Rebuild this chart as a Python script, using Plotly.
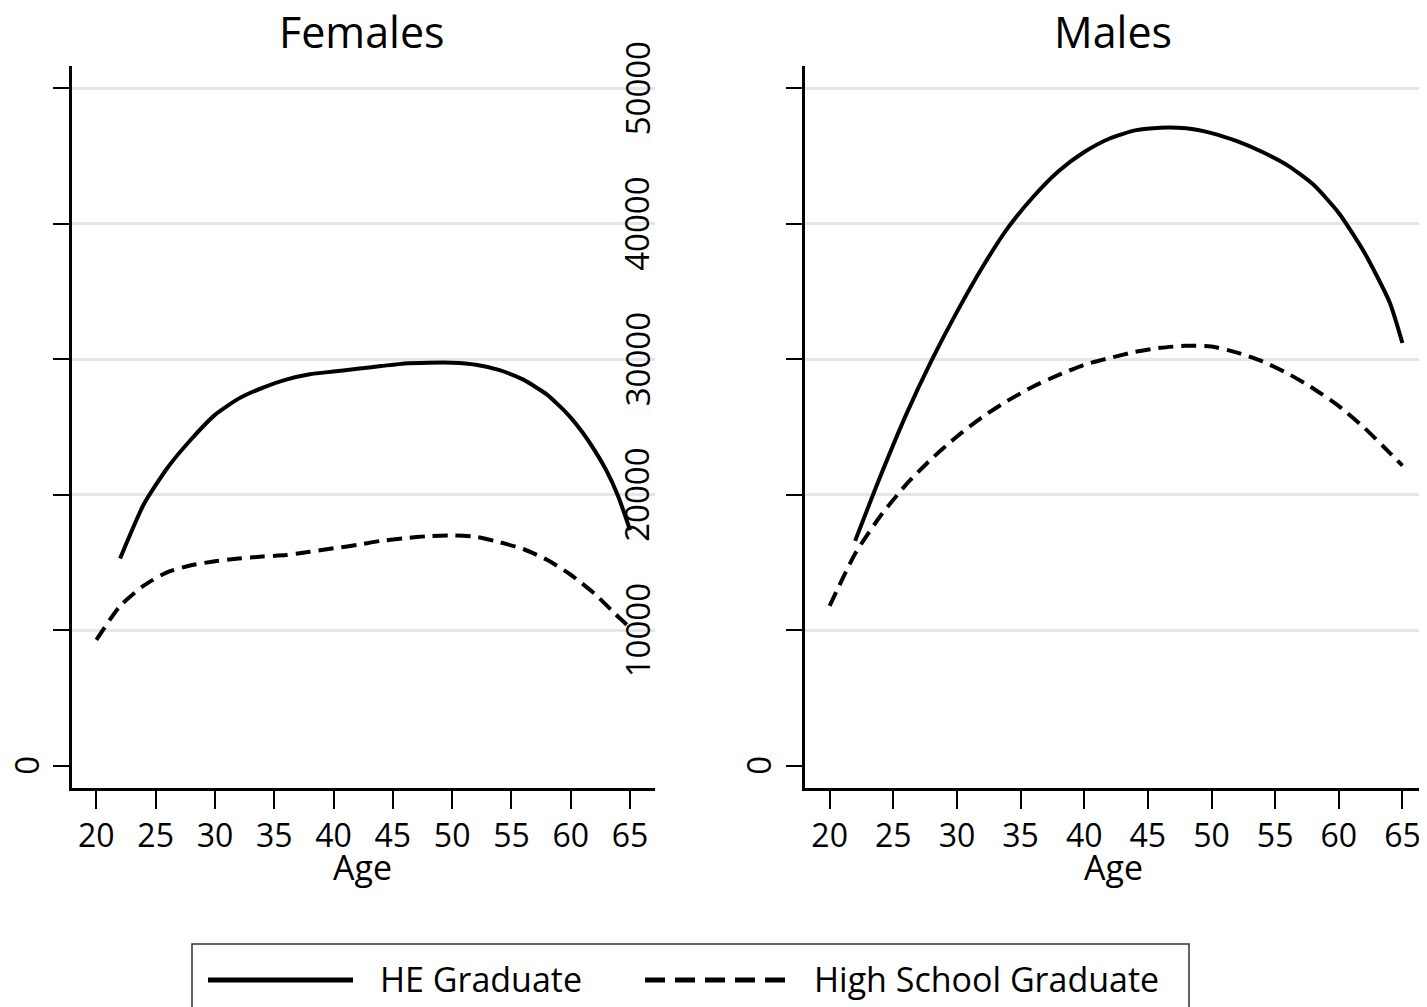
import plotly.graph_objects as go

# ---------------- data ----------------
fem_he_age = [22, 24, 26, 28, 30, 32, 34, 36, 38, 40, 42, 44, 46, 48, 50, 52, 54, 56, 58, 59, 60, 61, 62, 63, 64, 65]
fem_he_val = [15300, 19300, 22000, 24100, 25900, 27100, 27900, 28500, 28900, 29100, 29300, 29500,
              29700, 29750, 29750, 29600, 29200, 28500, 27400, 26600, 25700, 24600, 23300, 21800, 19900, 17400]

fem_hs_age = [20, 22, 24, 26, 28, 30, 32, 34, 36, 38, 40, 42, 44, 46, 48, 50, 52, 54, 56, 58, 60, 62, 64, 65]
fem_hs_val = [9300, 11800, 13300, 14300, 14800, 15100, 15300, 15450, 15550, 15800, 16050, 16300,
              16600, 16800, 16950, 17000, 16900, 16500, 16000, 15200, 14100, 12700, 11000, 10200]

male_he_age = [22, 24, 26, 28, 30, 32, 34, 36, 38, 40, 42, 44, 46, 48, 50, 52, 54, 56, 58, 60, 62, 64, 65]
male_he_val = [16600, 21400, 25900, 29900, 33500, 36800, 39700, 42000, 43900, 45300, 46300, 46900,
               47100, 47050, 46700, 46100, 45300, 44300, 42900, 40800, 37900, 34200, 31200]

male_hs_age = [20, 22, 24, 26, 28, 30, 32, 34, 36, 38, 40, 42, 44, 46, 48, 50, 52, 54, 56, 58, 60, 62, 64, 65]
male_hs_val = [11800, 15650, 18450, 20750, 22650, 24300, 25750, 26950, 28000, 28850, 29600, 30100,
               30550, 30850, 31000, 30950, 30500, 29850, 28950, 27850, 26550, 24950, 23100, 22150]

x_ticks = [20, 25, 30, 35, 40, 45, 50, 55, 60, 65]
y_ticks = [0, 10000, 20000, 30000, 40000, 50000]
y_grid = [10000, 20000, 30000, 40000, 50000]
panel_titles = ["Females", "Males"]
x_title = "Age"
series_names = ["HE Graduate", "High School Graduate"]

# ---------------- figure ----------------
OFF = 8                      # page body margin in the browser
W, H = 1427 - OFF, 1007 - OFF
FONT = "Open Sans"
LW = 4
DASH = "15px,8px"


def px_x(p):
    return (p - OFF) / W


def px_y(p):
    return 1 - (p - OFF) / H


fig = go.Figure()
fig.add_trace(go.Scatter(x=fem_he_age, y=fem_he_val, mode="lines", name=series_names[0],
                         line=dict(color="black", width=LW, shape="spline", smoothing=0.6),
                         xaxis="x", yaxis="y", showlegend=False))
fig.add_trace(go.Scatter(x=fem_hs_age, y=fem_hs_val, mode="lines", name=series_names[1],
                         line=dict(color="black", width=LW, dash=DASH, shape="spline", smoothing=0.6),
                         xaxis="x", yaxis="y", showlegend=False))
fig.add_trace(go.Scatter(x=male_he_age, y=male_he_val, mode="lines", name=series_names[0],
                         line=dict(color="black", width=LW, shape="spline", smoothing=0.6),
                         xaxis="x2", yaxis="y2", showlegend=False))
fig.add_trace(go.Scatter(x=male_hs_age, y=male_hs_val, mode="lines", name=series_names[1],
                         line=dict(color="black", width=LW, dash=DASH, shape="spline", smoothing=0.6),
                         xaxis="x2", yaxis="y2", showlegend=False))

y_dom = [px_y(788), px_y(66)]
xaxis_common = dict(
    tickvals=x_ticks, ticks="outside", ticklen=18, tickwidth=2, tickcolor="black",
    showline=True, linecolor="black", linewidth=2.5, showgrid=False, zeroline=False,
    tickfont=dict(family=FONT, size=32, color="black"),
)
yaxis_common = dict(
    range=[-1640, 51650], tickvals=y_ticks, ticktext=[""] * len(y_ticks),
    ticks="outside", ticklen=16, tickwidth=2, tickcolor="black",
    showline=True, linecolor="black", linewidth=2.5, showgrid=False, zeroline=False,
    minor=dict(tickvals=y_grid, showgrid=True, gridcolor="#e6e6e6", gridwidth=2.5, ticks=""),
    domain=y_dom,
)

fig.update_layout(
    width=W, height=H,
    margin=dict(l=0, r=0, t=0, b=0),
    paper_bgcolor="white", plot_bgcolor="white",
    font=dict(family=FONT, color="black"),
    xaxis=dict(domain=[px_x(71.7), px_x(654.7)], range=[17.92, 67.08], anchor="y", **xaxis_common),
    xaxis2=dict(domain=[px_x(804.7), 1.0], range=[18.04, 66.93], anchor="y2", **xaxis_common),
    yaxis=dict(anchor="x", **yaxis_common),
    yaxis2=dict(anchor="x2", **yaxis_common),
    showlegend=False,
)

ann = []
# panel titles
ann.append(dict(text=panel_titles[0], x=px_x(362), y=px_y(31), xref="paper", yref="paper",
                showarrow=False, font=dict(family=FONT, size=43, color="black"),
                xanchor="center", yanchor="middle"))
ann.append(dict(text=panel_titles[1], x=px_x(1113), y=px_y(31), xref="paper", yref="paper",
                showarrow=False, font=dict(family=FONT, size=43, color="black"),
                xanchor="center", yanchor="middle"))
# x-axis titles
ann.append(dict(text=x_title, x=px_x(362), y=px_y(867), xref="paper", yref="paper",
                showarrow=False, font=dict(family=FONT, size=34, color="black"),
                xanchor="center", yanchor="middle"))
ann.append(dict(text=x_title, x=px_x(1113), y=px_y(867), xref="paper", yref="paper",
                showarrow=False, font=dict(family=FONT, size=34, color="black"),
                xanchor="center", yanchor="middle"))
# y tick labels (rotated), placed as in the reference
for v in y_ticks:
    xpos = 27 if v == 0 else 637
    ann.append(dict(text=str(v), x=px_x(xpos), y=v, xref="paper", yref="y", showarrow=False,
                    textangle=-90, font=dict(family=FONT, size=33, color="black"),
                    xanchor="center", yanchor="middle"))
ann.append(dict(text=str(y_ticks[0]), x=px_x(759), y=y_ticks[0], xref="paper", yref="y2",
                showarrow=False, textangle=-90, font=dict(family=FONT, size=33, color="black"),
                xanchor="center", yanchor="middle"))

# legend (manual)
shapes = [
    dict(type="rect", xref="paper", yref="paper", x0=px_x(192), x1=px_x(1189), y0=px_y(1030), y1=px_y(944),
         line=dict(color="#333333", width=1.5), fillcolor="rgba(0,0,0,0)"),
    dict(type="line", xref="paper", yref="paper", x0=px_x(208), x1=px_x(353), y0=px_y(980), y1=px_y(980),
         line=dict(color="black", width=5)),
    dict(type="line", xref="paper", yref="paper", x0=px_x(645), x1=px_x(791), y0=px_y(980), y1=px_y(980),
         line=dict(color="black", width=5, dash="20px,10px")),
]
ann.append(dict(text=series_names[0], x=px_x(378), y=px_y(979), xref="paper", yref="paper",
                showarrow=False, font=dict(family=FONT, size=34, color="black"),
                xanchor="left", yanchor="middle"))
ann.append(dict(text=series_names[1], x=px_x(812), y=px_y(979), xref="paper", yref="paper",
                showarrow=False, font=dict(family=FONT, size=34, color="black"),
                xanchor="left", yanchor="middle"))

fig.update_layout(annotations=ann, shapes=shapes)
fig.write_html("out.html")
